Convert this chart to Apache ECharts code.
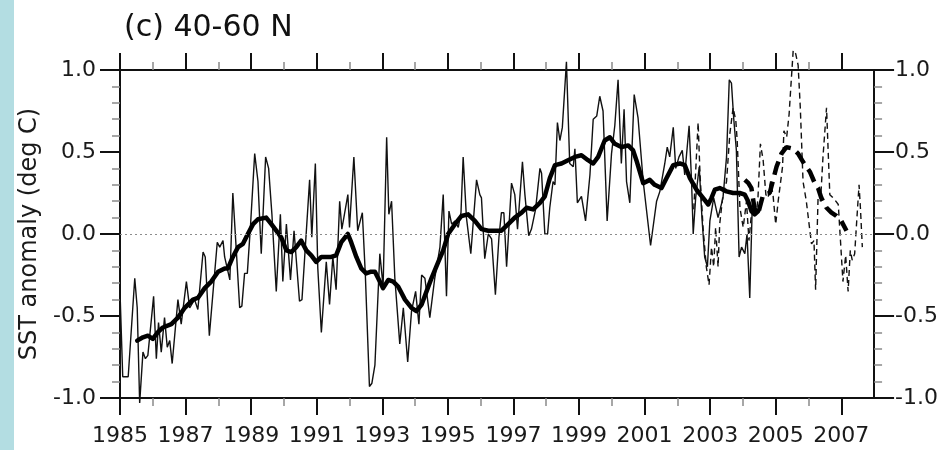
<!DOCTYPE html>
<html>
<head>
<meta charset="utf-8">
<script src="https://cdn.jsdelivr.net/npm/echarts@6/dist/echarts.min.js"></script>
<style>
  html, body { margin: 0; padding: 0; background: #ffffff; }
  #chart { width: 941px; height: 450px; }
</style>
</head>
<body>
<div id="chart"></div>
<script>
// SST anomaly, 40-60 N. Times are months since January 1985.
const startYear = 1985;

// Monthly anomaly, first record (thin solid)
const monthlyMonths = [0,1,3,5.4,6.3,7.2,8.4,9.3,10.2,12.3,13.3,14.1,15.1,16.3,17.3,18.2,19.1,21.2,22.4,24.3,25.5,27.3,28.5,30.4,31.2,32.7,35.6,36.5,37.7,38.3,40.2,41.3,42.5,43.8,44.6,45.6,46.6,47.8,49.3,50.5,51.7,53.3,54.4,55.6,57.2,58.7,59.6,60.9,61.5,62.4,63.7,65.7,66.6,67.6,69.4,70.2,71.5,72.4,73.7,75.5,76.7,77.9,79.1,80.4,81.2,83.4,84.0,85.6,87.0,88.7,89.8,91.3,92.2,93.3,95.1,96.3,97.6,98.4,99.4,100.6,102.4,103.7,105.3,106.7,108.2,109.4,110.4,111.6,113.4,115.2,117.1,118.3,119.5,120.4,121.4,122.6,123.8,124.8,125.6,126.8,128.4,130.5,131.7,132.3,133.5,134.8,136.0,137.4,138.7,139.6,140.5,141.5,143.3,144.5,145.5,147.3,148.2,149.6,150.6,152.1,153.7,154.3,155.5,156.5,157.3,158.5,159.2,160.1,161.0,161.9,163.4,164.6,165.9,166.5,167.4,168.9,170.4,172.0,173.2,174.5,175.6,176.8,178.3,179.9,181.1,182.3,183.5,184.5,185.4,186.6,188.2,189.6,191.5,194.2,194.9,196.4,197.6,199.4,200.3,201.2,202.5,203.4,204.6,205.8,206.7,208.3,209.2,209.8,210.7,212.0,213.0,214.0,215.0,215.9,217.3,218.9,220.7,222.0,223.0,223.8,224.6,225.6,226.6,227.5,228.7,229.5,230.5,231.4,232.3,232.9];
const monthlyValues = [-0.35,-0.87,-0.87,-0.27,-0.45,-1.03,-0.72,-0.76,-0.74,-0.38,-0.76,-0.54,-0.72,-0.51,-0.69,-0.65,-0.79,-0.40,-0.55,-0.29,-0.45,-0.40,-0.46,-0.11,-0.14,-0.62,-0.05,-0.08,-0.04,-0.14,-0.28,0.25,-0.08,-0.45,-0.44,-0.24,-0.24,0.06,0.49,0.32,-0.12,0.47,0.40,0.12,-0.35,0.12,-0.29,0.06,0.05,-0.28,0.02,-0.41,-0.40,-0.14,0.33,-0.02,0.43,-0.21,-0.60,-0.17,-0.43,-0.14,-0.34,0.20,0.03,0.24,0.04,0.47,0.02,0.13,-0.25,-0.93,-0.91,-0.80,-0.12,-0.32,0.59,0.12,0.20,-0.27,-0.67,-0.45,-0.78,-0.47,-0.35,-0.55,-0.25,-0.27,-0.51,-0.27,-0.08,0.24,-0.38,0.14,0.06,0.08,0.04,0.13,0.47,0.10,-0.12,0.33,0.24,0.22,-0.15,0.00,-0.03,-0.37,-0.02,0.13,0.13,-0.20,0.31,0.24,0.03,0.44,0.24,-0.01,0.03,0.15,0.40,0.37,0.00,0.00,0.16,0.32,0.30,0.68,0.57,0.65,1.05,0.43,0.41,0.52,0.19,0.23,0.08,0.36,0.70,0.72,0.84,0.75,0.08,0.49,0.66,0.94,0.43,0.76,0.32,0.19,0.85,0.71,0.32,-0.07,-0.06,0.20,0.26,0.43,0.53,0.47,0.65,0.40,0.47,0.51,0.36,0.66,0.32,0.00,0.22,0.41,0.10,-0.14,-0.20,0.08,0.22,0.10,0.22,0.47,0.94,0.92,0.71,0.51,-0.14,-0.08,-0.12,0.00,-0.39,0.16,0.12,0.16];

// Running mean of the first record (thick solid)
const meanMonths = [6.3,8.4,10.2,12.0,13.8,15.7,18.8,21.2,23.7,26.7,28.5,31.0,33.4,35.9,38.3,39.5,41.3,43.2,45.0,46.8,48.7,50.5,53.5,55.4,57.2,59.0,60.9,62.7,64.5,66.3,68.2,70.0,71.8,73.7,75.5,77.3,79.1,81.0,83.4,84.6,86.5,88.3,90.1,91.9,93.3,95.1,96.3,98.2,100.0,101.8,104.3,106.7,108.5,110.4,112.2,114.0,116.5,118.3,120.1,122.6,125.0,127.4,129.9,132.3,134.8,137.2,139.6,142.1,144.5,147.0,148.8,151.2,153.7,155.5,157.3,159.2,161.6,164.0,166.5,168.9,171.3,173.2,175.0,177.4,179.3,181.1,183.5,186.0,187.8,189.0,191.5,193.9,195.7,198.2,200.0,202.5,204.9,206.7,208.6,211.0,213.4,215.3,216.5,217.7,219.5,222.0,224.4,226.8,228.7,229.9,231.1,232.3,233.6];
const meanValues = [-0.65,-0.63,-0.62,-0.64,-0.60,-0.57,-0.55,-0.51,-0.45,-0.40,-0.39,-0.33,-0.29,-0.23,-0.21,-0.21,-0.14,-0.08,-0.06,0.00,0.06,0.09,0.10,0.06,0.02,-0.02,-0.10,-0.11,-0.08,-0.04,-0.10,-0.13,-0.17,-0.14,-0.14,-0.14,-0.13,-0.05,0.00,-0.05,-0.14,-0.21,-0.24,-0.23,-0.23,-0.29,-0.33,-0.28,-0.29,-0.32,-0.40,-0.45,-0.47,-0.43,-0.35,-0.27,-0.17,-0.10,0.00,0.06,0.11,0.12,0.08,0.03,0.02,0.02,0.02,0.06,0.10,0.13,0.16,0.15,0.19,0.23,0.34,0.42,0.43,0.45,0.47,0.48,0.45,0.43,0.47,0.57,0.59,0.55,0.53,0.54,0.51,0.45,0.31,0.33,0.30,0.28,0.34,0.42,0.43,0.42,0.34,0.27,0.22,0.18,0.22,0.27,0.28,0.26,0.25,0.25,0.24,0.20,0.14,0.12,0.14];

// Monthly anomaly, second record (thin dashed)
const recentMonths = [210.0,211.6,212.3,213.4,214.6,215.6,216.5,217.3,218.0,218.9,219.5,220.7,222.0,223.2,224.4,225.4,225.9,226.9,228.1,229.3,230.2,231.1,232.0,232.9,233.5,234.4,235.4,236.4,237.2,238.1,239.0,240.0,240.9,241.5,242.5,243.0,244.0,244.9,245.7,246.4,247.3,248.2,249.0,250.0,251.2,252.5,253.1,254.0,254.6,255.5,256.4,257.3,258.6,259.8,261.0,262.0,262.9,263.7,264.6,265.6,266.5,267.3,268.0,268.9,269.5,270.5,271.0,271.7];
const recentValues = [0.15,0.68,0.36,0.04,-0.20,-0.31,-0.08,-0.20,0.04,-0.20,0.06,0.24,0.32,0.61,0.77,0.69,0.57,0.16,0.04,0.20,-0.04,0.12,0.16,0.12,0.22,0.55,0.45,0.24,0.22,0.32,0.24,0.06,0.20,0.28,0.41,0.63,0.59,0.73,0.94,1.12,1.10,1.03,0.77,0.32,0.20,0.02,-0.06,-0.04,-0.34,0.22,0.20,0.47,0.77,0.24,0.22,0.20,0.18,-0.04,-0.29,-0.13,-0.35,-0.10,-0.16,-0.12,0.04,0.30,0.16,-0.08];

// Running mean of the second record (thick dashed)
const recentMeanMonths = [228.7,230.0,231.1,232.3,233.5,235.4,237.8,240.3,242.1,243.9,246.4,248.2,250.0,252.5,254.3,255.5,256.7,258.6,260.4,262.2,264.0,265.9];
const recentMeanValues = [0.33,0.31,0.28,0.15,0.12,0.24,0.25,0.41,0.49,0.53,0.52,0.49,0.44,0.38,0.31,0.28,0.22,0.16,0.13,0.11,0.08,0.02];

// Axis ticks
const yearLabels = [1985,1987,1989,1991,1993,1995,1997,1999,2001,2003,2005,2007];
const minorYears = [1986,1988,1990,1992,1994,1996,1998,2000,2002,2004,2006];
const valueTicks = [-1.0,-0.5,0.0,0.5,1.0];

const toPairs = (months, values) => months.map((m, i) => [startYear + m / 12, values[i]]);

const FONT = 'DejaVu Sans';
const INK = '#111111';

function timeAxis(position, ticks, tickLen, tickColor, tickWidth, withLabels) {
  return {
    type: 'value', position: position, min: 1985, max: 2008,
    axisLine: { show: true, onZero: false, lineStyle: { color: INK, width: 2 } },
    axisTick: { show: true, inside: false, length: tickLen, customValues: ticks,
                lineStyle: { color: tickColor, width: tickWidth } },
    axisLabel: withLabels
      ? { show: true, customValues: yearLabels, formatter: v => String(Math.round(v)),
          fontFamily: FONT, fontSize: 22, color: '#1a1a1a', margin: 27 }
      : { show: false },
    splitLine: { show: false }
  };
}

function valueAxis(position, margin, withName) {
  const ax = {
    type: 'value', position: position, min: -1, max: 1, interval: 0.5,
    axisLine: { show: true, onZero: false, lineStyle: { color: INK, width: 2 } },
    axisTick: { show: true, inside: false, length: 20, lineStyle: { color: INK, width: 2 } },
    minorTick: { show: true, splitNumber: 5, length: 8, lineStyle: { color: '#8a8a8a', width: 1.5 } },
    axisLabel: { show: true, formatter: v => v.toFixed(1), fontFamily: FONT, fontSize: 22,
                 color: '#1a1a1a', margin: margin },
    splitLine: { show: false }
  };
  if (withName) {
    ax.name = 'SST anomaly (deg C)';
    ax.nameLocation = 'middle';
    ax.nameGap = 77;
    ax.nameTextStyle = { fontFamily: FONT, fontSize: 24, color: '#1a1a1a' };
  }
  return ax;
}

const chart = echarts.init(document.getElementById('chart'), null, { renderer: 'canvas' });

chart.setOption({
  animation: false,
  backgroundColor: '#ffffff',
  title: {
    text: '(c) 40-60 N', left: 119, top: 8,
    textStyle: { fontFamily: FONT, fontSize: 30, fontWeight: 'normal', color: INK }
  },
  graphic: [{
    type: 'rect', left: 0, top: 0, z: -1,
    shape: { width: 14, height: 450 },
    style: { fill: '#b3dde2' }
  }],
  grid: { left: 120, right: 66, top: 70, bottom: 52 },
  xAxis: [
    timeAxis('bottom', yearLabels, 17, INK, 2, true),
    timeAxis('bottom', minorYears, 8, '#8a8a8a', 1.5, false),
    timeAxis('top', yearLabels, 17, INK, 2, false),
    timeAxis('top', minorYears, 8, '#8a8a8a', 1.5, false)
  ],
  yAxis: [
    valueAxis('left', 24, true),
    valueAxis('right', 21, false)
  ],
  series: [
    {
      name: 'monthly', type: 'line', xAxisIndex: 0, yAxisIndex: 0,
      data: toPairs(monthlyMonths, monthlyValues),
      symbol: 'none', clip: false, z: 3,
      lineStyle: { color: INK, width: 1.4 },
      markLine: {
        silent: true, symbol: ['none', 'none'], label: { show: false },
        lineStyle: { type: [2, 3], color: '#8c8c8c', width: 1 },
        data: [{ yAxis: 0 }]
      }
    },
    {
      name: 'recent', type: 'line', xAxisIndex: 0, yAxisIndex: 0,
      data: toPairs(recentMonths, recentValues),
      symbol: 'none', clip: false, z: 3,
      lineStyle: { color: INK, width: 1.4, type: [6, 4] }
    },
    {
      name: 'mean', type: 'line', xAxisIndex: 0, yAxisIndex: 0,
      data: toPairs(meanMonths, meanValues),
      symbol: 'none', clip: false, z: 4,
      lineStyle: { color: '#000000', width: 4.5, cap: 'round', join: 'round' }
    },
    {
      name: 'recent mean', type: 'line', xAxisIndex: 0, yAxisIndex: 0,
      data: toPairs(recentMeanMonths, recentMeanValues),
      symbol: 'none', clip: false, z: 4,
      lineStyle: { color: '#000000', width: 4.5, type: [14, 7] }
    }
  ]
});
</script>
</body>
</html>
